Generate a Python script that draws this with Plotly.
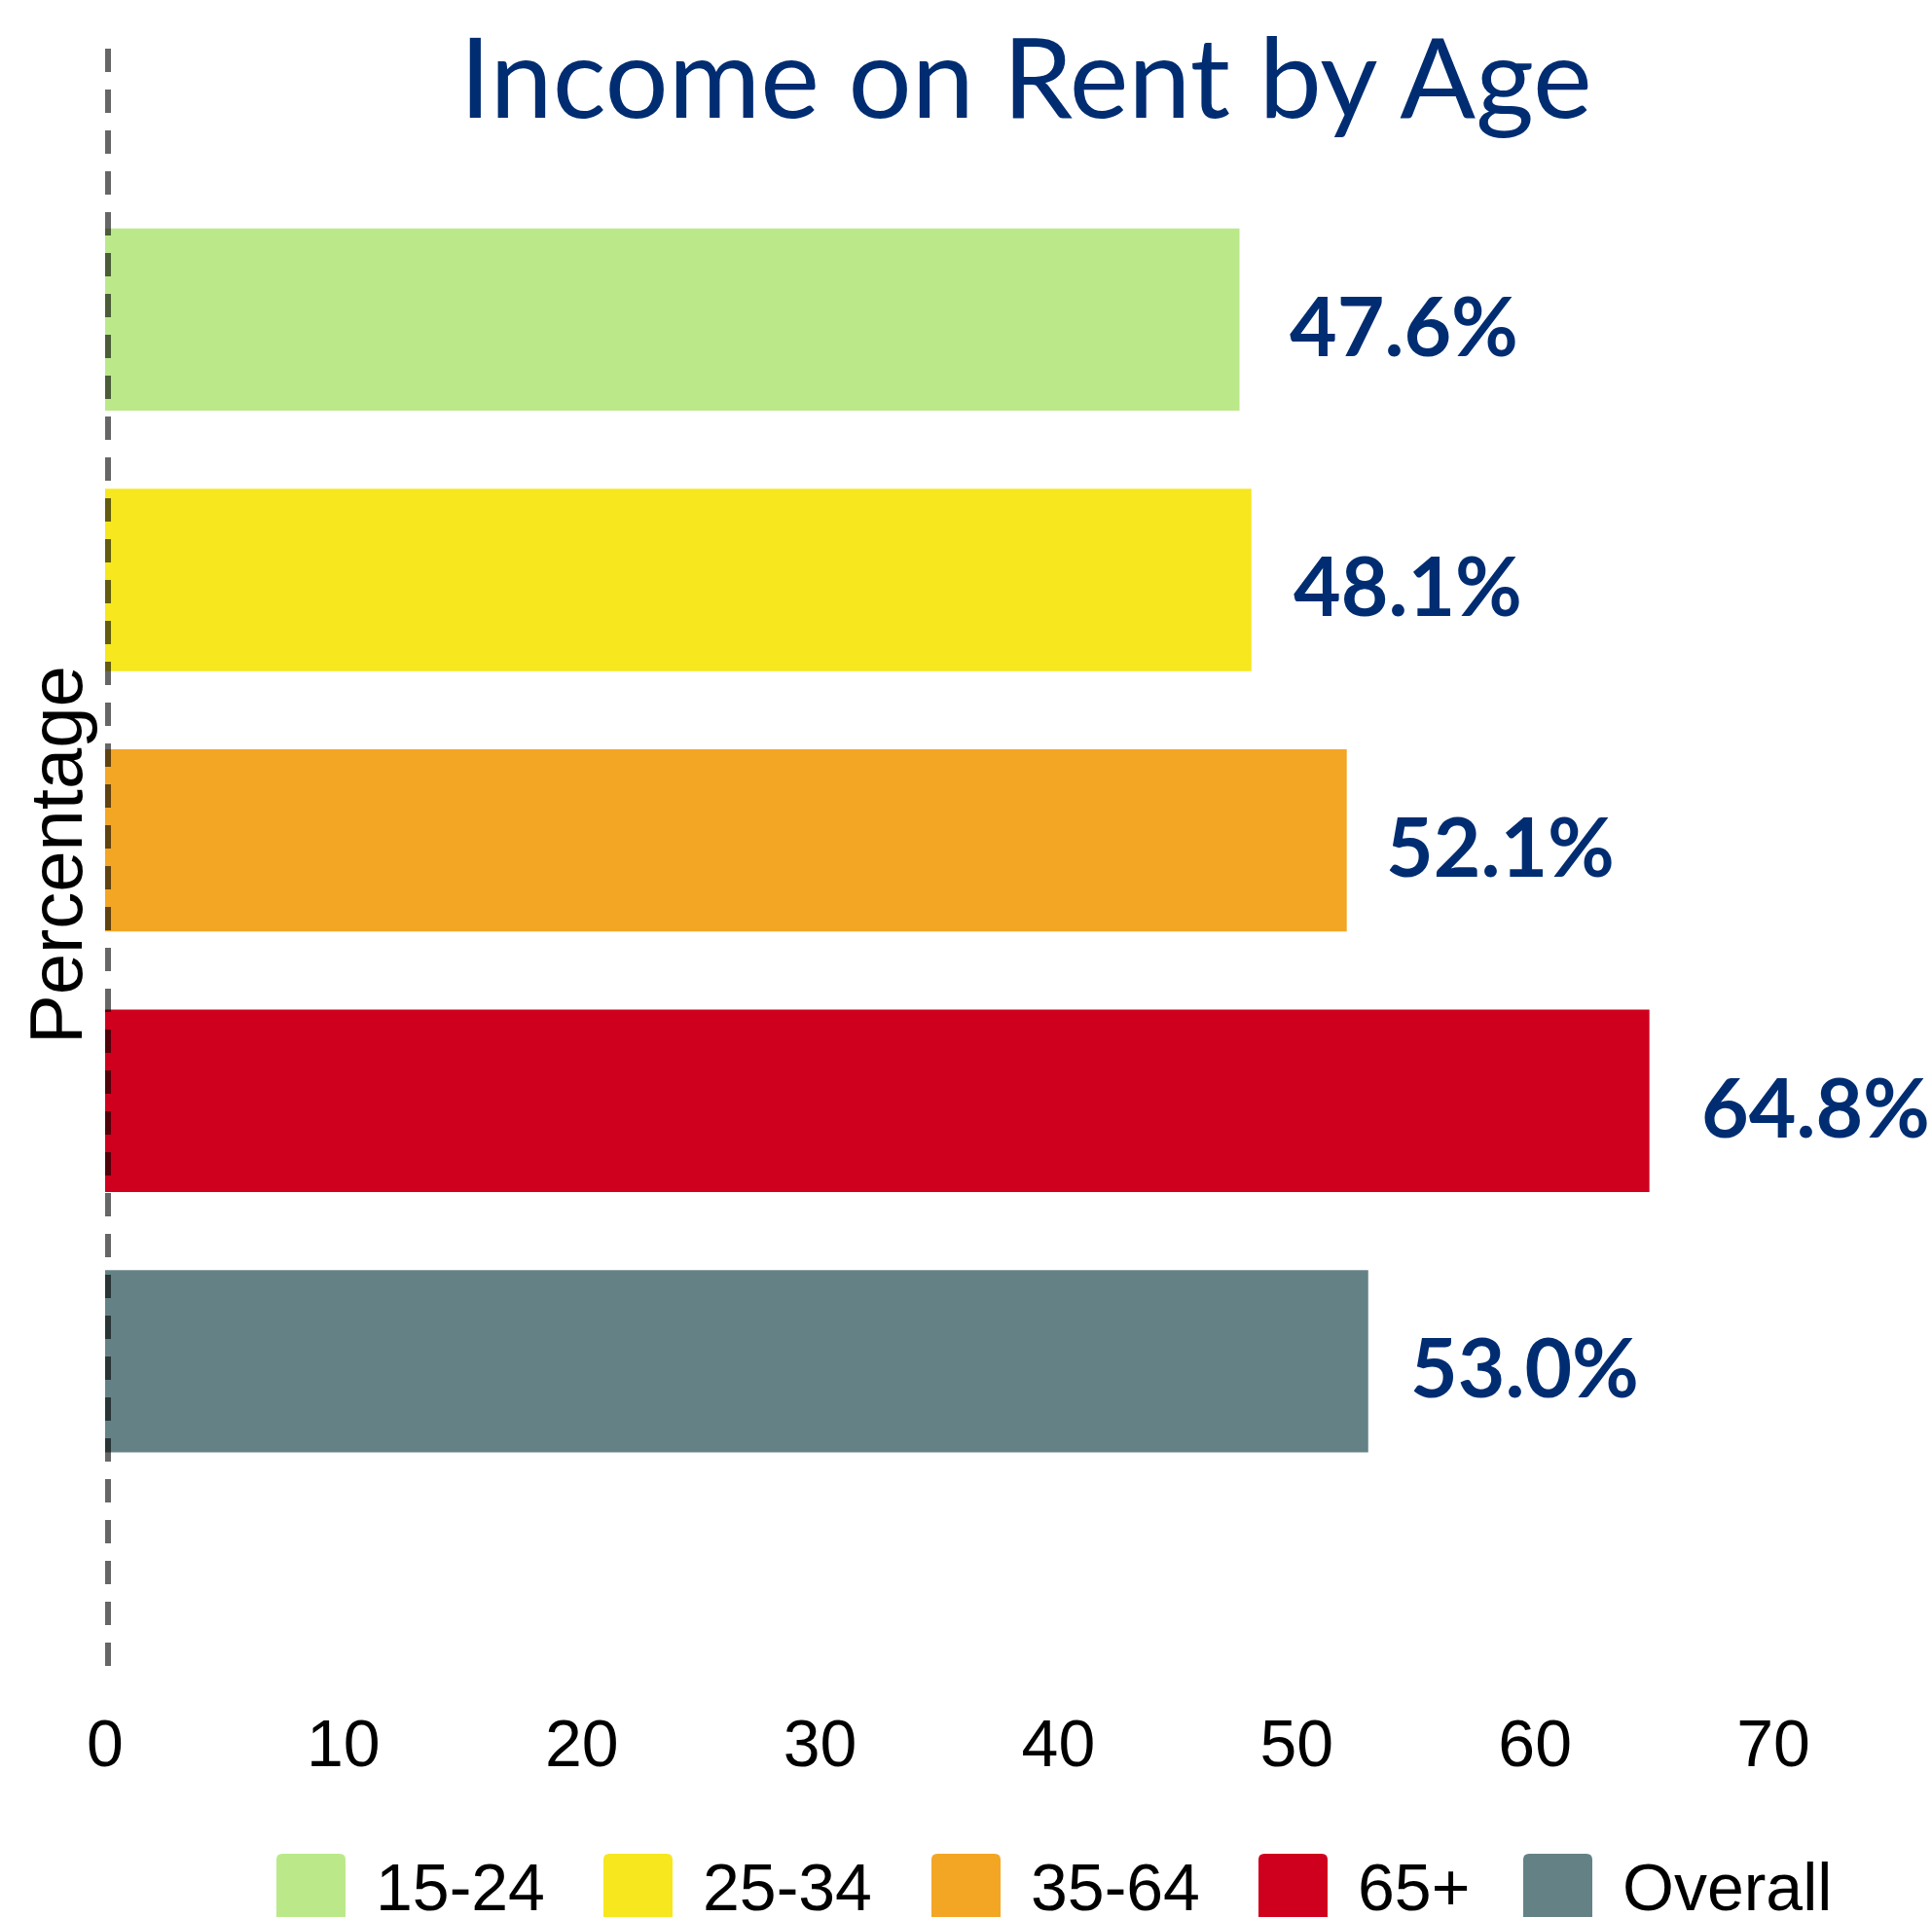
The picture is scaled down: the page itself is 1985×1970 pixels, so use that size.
import plotly.graph_objects as go

# ---- data ----
categories = ["15-24", "25-34", "35-64", "65+", "Overall"]
values = [47.6, 48.1, 52.1, 64.8, 53.0]
labels = ["47.6%", "48.1%", "52.1%", "64.8%", "53.0%"]
colors = ["#BBE98A", "#F6E71F", "#F3A624", "#CF001D", "#648286"]
x_ticks = [0, 10, 20, 30, 40, 50, 60, 70]

# ---- style / layout ----
label_offsets_px = [49, 41, 38, 51, 41]
W, H = 1985, 1970
ML, MR, MT, MB = 108, 163, 50, 258
NAVY = "#002D72"

fig = go.Figure()
for cat, val, col in zip(categories, values, colors):
    fig.add_trace(go.Bar(
        y=[cat], x=[val], orientation="h", name=cat,
        marker=dict(color=col, line=dict(width=0)),
        width=0.70, showlegend=False, hoverinfo="skip",
    ))

# value labels
for cat, val, lab, off in zip(categories, values, labels, label_offsets_px):
    fig.add_annotation(
        x=val, y=cat, xref="x", yref="y", text=lab, showarrow=False,
        xanchor="left", yanchor="middle", xshift=off, yshift=-5,
        font=dict(family="Lato", size=84, color=NAVY, weight="bold"),
    )

# dashed zero line (anchored at x=0, offset in pixels so it is not clipped)
fig.add_shape(type="line", xref="x", yref="paper", xsizemode="pixel", xanchor=0,
              x0=3, x1=3, y0=1, y1=0,
              line=dict(color="rgba(0,0,0,0.6)", width=6, dash="24px,18px"),
              layer="above")

# y axis title
fig.add_annotation(
    text="Percentage", textangle=-90, xref="paper", yref="paper",
    x=0, y=0.5, xanchor="center", yanchor="middle", xshift=-51, yshift=2,
    showarrow=False, font=dict(family="Liberation Sans, Arial", size=76, color="black"),
)

# manual legend (large swatches with rounded corners)
pw = W - ML - MR
ph = H - MT - MB
def px_x(p):
    return (p - ML) / pw
def px_y(p):
    return (H - MB - p) / ph

def rounded_rect(x0, y0, x1, y1, r):
    def P(x, y):
        return f"{px_x(x):.6f},{px_y(y):.6f}"
    return (f"M {P(x0 + r, y0)} L {P(x1 - r, y0)} Q {P(x1, y0)} {P(x1, y0 + r)} "
            f"L {P(x1, y1 - r)} Q {P(x1, y1)} {P(x1 - r, y1)} L {P(x0 + r, y1)} "
            f"Q {P(x0, y1)} {P(x0, y1 - r)} L {P(x0, y0 + r)} Q {P(x0, y0)} {P(x0 + r, y0)} Z")

legend_swatch_x = [284, 620, 957, 1293, 1565]
sw_w = 71
for cat, col, sx in zip(categories, colors, legend_swatch_x):
    fig.add_shape(type="path", xref="paper", yref="paper",
                  path=rounded_rect(sx, 1905, sx + sw_w, 1990, 6),
                  fillcolor=col, line=dict(width=0), layer="above")
    fig.add_annotation(
        text=cat, xref="paper", yref="paper", x=px_x(sx + sw_w + 29), y=px_y(1939),
        xanchor="left", yanchor="middle", showarrow=False,
        font=dict(family="Liberation Sans, Arial", size=68, color="black"),
    )

fig.update_layout(
    width=W, height=H,
    margin=dict(l=ML, r=MR, t=MT, b=MB, pad=0),
    plot_bgcolor="white", paper_bgcolor="white",
    bargap=0.3,
    title=dict(text="Income on Rent by Age", x=1054 / W, xanchor="center",
               xref="container", yref="container", y=1 - 81 / H, yanchor="middle",
               font=dict(family="Lato", size=115, color=NAVY, weight=400)),
    xaxis=dict(range=[0, 70], tickvals=x_ticks, showgrid=False, zeroline=False,
               showline=False, ticks="", ticklabelstandoff=34,
               tickfont=dict(family="Liberation Sans, Arial", size=68, color="black")),
    yaxis=dict(categoryorder="array", categoryarray=categories,
               range=[5.17, -1.04], showgrid=False, zeroline=False,
               showline=False, showticklabels=False, ticks=""),
)

fig.write_html("out.html")
